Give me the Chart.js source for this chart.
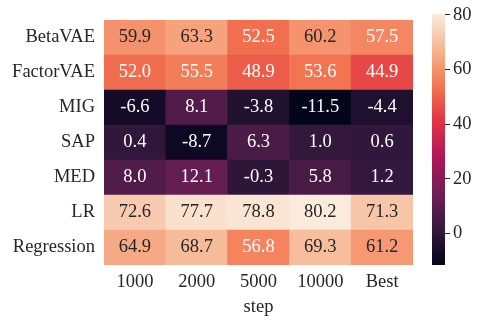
<!DOCTYPE html>
<html>
<head>
<meta charset="utf-8">
<script src="https://cdn.jsdelivr.net/npm/chart.js@4"></script>
<style>
html, body { margin: 0; padding: 0; background: #fff; }
#wrap { position: relative; width: 483px; height: 325px; }
canvas { position: absolute; left: 0; top: 0; }
</style>
</head>
<body>
<div id="wrap">
  <canvas id="heat" width="483" height="325"></canvas>
  <canvas id="cbar" width="483" height="325"></canvas>
</div>
<script>
// heatmap data, rows top to bottom
const steps = ['1000', '2000', '5000', '10000', 'Best'];
const metrics = ['BetaVAE', 'FactorVAE', 'MIG', 'SAP', 'MED', 'LR', 'Regression'];
const betaVAE = [59.9, 63.3, 52.5, 60.2, 57.5];
const factorVAE = [52.0, 55.5, 48.9, 53.6, 44.9];
const mig = [-6.6, 8.1, -3.8, -11.5, -4.4];
const sap = [0.4, -8.7, 6.3, 1.0, 0.6];
const med = [8.0, 12.1, -0.3, 5.8, 1.2];
const lr = [72.6, 77.7, 78.8, 80.2, 71.3];
const regression = [64.9, 68.7, 56.8, 69.3, 61.2];
const cbarTicks = [0, 20, 40, 60, 80];

const rows = [betaVAE, factorVAE, mig, sap, med, lr, regression];
const vmin = Math.min(...rows.flat());
const vmax = Math.max(...rows.flat());

// rocket colormap, sampled at i/7
const rocket = ['#03051a', '#35193e', '#701f57', '#ad1759', '#e13342', '#f37651', '#f6b48f', '#faebdd'];
const rocketRgb = rocket.map(h => [1, 3, 5].map(i => parseInt(h.substr(i, 2), 16)));

function colorRgb(v) {
    let t = (v - vmin) / (vmax - vmin);
    t = Math.max(0, Math.min(1, t)) * (rocket.length - 1);
    const i = Math.min(Math.floor(t), rocket.length - 2);
    const f = t - i;
    return rocketRgb[i].map((c, k) => Math.round(c + (rocketRgb[i + 1][k] - c) * f));
}
function colorFor(v) {
    const c = colorRgb(v);
    return 'rgb(' + c.join(',') + ')';
}
function textColor(v) {
    const lin = colorRgb(v).map(c => {
        c = c / 255;
        return c <= 0.03928 ? c / 12.92 : Math.pow((c + 0.055) / 1.055, 2.4);
    });
    const lum = 0.2126 * lin[0] + 0.7152 * lin[1] + 0.0722 * lin[2];
    return lum > 0.39 ? '#262626' : '#ffffff';
}

const font = { family: '"Liberation Serif", "Times New Roman", serif', size: 18.5 };

// write the value in the middle of each cell
const cellLabels = {
    id: 'cellLabels',
    afterDatasetsDraw(chart) {
        const ctx = chart.ctx;
        ctx.save();
        ctx.font = font.size + 'px ' + font.family;
        ctx.textAlign = 'center';
        ctx.textBaseline = 'middle';
        chart.data.datasets.forEach((ds, di) => {
            chart.getDatasetMeta(di).data.forEach((el, j) => {
                const p = el.getProps(['x', 'y', 'base'], true);
                const v = ds.values[j];
                ctx.fillStyle = textColor(v);
                ctx.fillText(v.toFixed(1), p.x, (p.y + p.base) / 2);
            });
        });
        ctx.restore();
    }
};

// stacked from the bottom, so last row goes first
const datasets = rows.map((vals, i) => ({
    label: metrics[i],
    data: vals.map(() => 1),
    values: vals,
    backgroundColor: vals.map(colorFor),
    borderWidth: 0,
    barPercentage: 1,
    categoryPercentage: 1
})).reverse();

new Chart(document.getElementById('heat'), {
    type: 'bar',
    data: { labels: steps, datasets: datasets },
    options: {
        responsive: false,
        animation: false,
        layout: { padding: { top: 15, right: 70 } },
        plugins: { legend: { display: false }, tooltip: { enabled: false } },
        scales: {
            x: {
                stacked: true,
                grid: { display: false, drawTicks: false },
                border: { display: false },
                ticks: { color: '#262626', font: font, padding: 6, maxRotation: 0, autoSkip: false },
                title: { display: true, text: 'step', color: '#262626', font: font, padding: { top: 0, bottom: 7 } },
                afterFit: scale => { scale.height = 60; }
            },
            y: {
                stacked: true,
                min: 0,
                max: metrics.length,
                grid: { display: false, drawTicks: false },
                border: { display: false },
                afterBuildTicks: axis => {
                    axis.ticks = metrics.map((m, i) => ({ value: metrics.length - 0.5 - i }));
                },
                ticks: {
                    color: '#262626',
                    font: font,
                    padding: 9,
                    callback: v => metrics[Math.round(metrics.length - 0.5 - v)]
                },
                afterFit: scale => { scale.width = 104; }
            }
        }
    },
    plugins: [cellLabels]
});

// colorbar
new Chart(document.getElementById('cbar'), {
    type: 'bar',
    data: {
        labels: [''],
        datasets: [{
            data: [[vmin, vmax]],
            borderWidth: 0,
            barPercentage: 1,
            categoryPercentage: 1,
            backgroundColor: ctx => {
                const chart = ctx.chart;
                if (!chart.chartArea) return null;
                const y = chart.scales.y;
                const g = chart.ctx.createLinearGradient(0, y.getPixelForValue(vmin), 0, y.getPixelForValue(vmax));
                rocket.forEach((c, i) => g.addColorStop(i / (rocket.length - 1), c));
                return g;
            }
        }]
    },
    options: {
        responsive: false,
        animation: false,
        layout: { padding: { left: 432, top: 14, bottom: 60 } },
        plugins: { legend: { display: false }, tooltip: { enabled: false } },
        scales: {
            x: { display: false },
            y: {
                position: 'right',
                min: vmin,
                max: vmax,
                grid: { drawOnChartArea: false, drawTicks: true, tickLength: 5, color: '#262626' },
                border: { display: false },
                afterBuildTicks: axis => {
                    axis.ticks = cbarTicks.map(v => ({ value: v }));
                },
                ticks: { color: '#262626', font: font, padding: 3 },
                afterFit: scale => { scale.width = 38; }
            }
        }
    }
});
</script>
</body>
</html>
